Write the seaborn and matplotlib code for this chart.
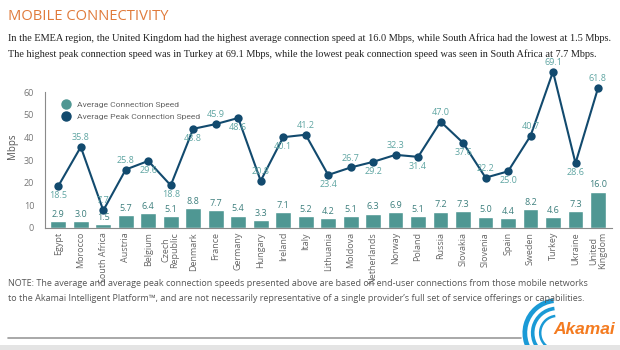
import numpy as np
import pandas as pd
import seaborn as sns
import matplotlib.pyplot as plt
from matplotlib.patches import Arc
from matplotlib.lines import Line2D

countries = ["Egypt", "Morocco", "South Africa", "Austria", "Belgium", "Czech\nRepublic",
             "Denmark", "France", "Germany", "Hungary", "Ireland", "Italy", "Lithuania",
             "Moldova", "Netherlands", "Norway", "Poland", "Russia", "Slovakia", "Slovenia",
             "Spain", "Sweden", "Turkey", "Ukraine", "United\nKingdom"]
avg_speed = [2.9, 3.0, 1.5, 5.7, 6.4, 5.1, 8.8, 7.7, 5.4, 3.3, 7.1, 5.2, 4.2,
             5.1, 6.3, 6.9, 5.1, 7.2, 7.3, 5.0, 4.4, 8.2, 4.6, 7.3, 16.0]
peak_speed = [18.5, 35.8, 7.7, 25.8, 29.6, 18.8, 43.8, 45.9, 48.6, 20.8, 40.1, 41.2, 23.4,
              26.7, 29.2, 32.3, 31.4, 47.0, 37.6, 22.2, 25.0, 40.7, 69.1, 28.6, 61.8]
# which peak labels sit above the point
peak_above = [False, True, True, True, False, False, False, True, False, True, False, True, False,
              True, False, True, False, True, False, True, False, True, True, False, True]

teal = "#4f9793"
navy = "#124a6e"
label_teal = "#5fa5a2"
gray = "#8a8a8a"

sns.set_style("white")
plt.rcParams['font.family'] = ['Open Sans', 'DejaVu Sans']

df = pd.DataFrame({"country": countries, "avg": avg_speed, "peak": peak_speed})
n = len(df)

fig = plt.figure(figsize=(6.2, 3.5), dpi=100)
ax = fig.add_axes([0.073, 0.349, 0.914, 0.465])

sns.barplot(data=df, x="country", y="avg", color=teal, saturation=1, width=0.7, ax=ax)
sns.lineplot(x=np.arange(n), y=df["peak"], color=navy, lw=1.5, marker="o",
             markersize=6, markeredgewidth=0, ax=ax)

for i, v in enumerate(avg_speed):
    ax.text(i, v + 1.0, f"{v:.1f}", ha="center", va="bottom", fontsize=6.5, color="#3d7f7d")
for i, v in enumerate(peak_speed):
    if peak_above[i]:
        ax.text(i, v + 2.2, f"{v:.1f}", ha="center", va="bottom", fontsize=6.5, color=label_teal)
    else:
        ax.text(i, v - 2.2, f"{v:.1f}", ha="center", va="top", fontsize=6.5, color=label_teal)

ax.set_xlim(-0.58, n - 0.38)
ax.set_ylim(0, 72)
ax.set_yticks([0, 10, 20, 30, 40, 50, 60])
ax.spines["top"].set_visible(False)
ax.spines["right"].set_visible(False)
ax.spines["left"].set_bounds(0, 60)
for s in ["left", "bottom"]:
    ax.spines[s].set_color(gray)
    ax.spines[s].set_linewidth(0.8)
ax.tick_params(axis="y", length=10, direction="inout", color=gray, labelsize=6.5,
               labelcolor="#777777", pad=3)
ax.tick_params(axis="x", length=0, labelsize=6.5, labelcolor="#666666", pad=3)
ax.set_xticks(range(n))
ax.set_xticklabels(countries, rotation=90, linespacing=0.95)
ax.set_xlabel("")
ax.set_ylabel("Mbps", fontsize=7, color="#555555", labelpad=4)

handles = [Line2D([], [], ls="", marker="o", color=teal, markersize=6.5),
           Line2D([], [], ls="", marker="o", color=navy, markersize=6.5)]
ax.legend(handles, ["Average Connection Speed", "Average Peak Connection Speed"],
          loc="upper left", bbox_to_anchor=(0.015, 0.805), frameon=False,
          prop={"family": ["Roboto", "DejaVu Sans"], "size": 6.1},
          labelcolor="#666666", handletextpad=0.3, labelspacing=0.6, borderpad=0)

fig.text(0.013, 0.953, "MOBILE CONNECTIVITY", fontsize=10.6, color="#e07a3a",
         va="center", ha="left")
serif = ["Liberation Serif", "DejaVu Serif"]
fig.text(0.013, 0.891, "In the EMEA region, the United Kingdom had the highest average connection "
         "speed at 16.0 Mbps, while South Africa had the lowest at 1.5 Mbps.",
         fontsize=7.4, family=serif, color="#222222", va="center")
fig.text(0.013, 0.845, "The highest peak connection speed was in Turkey at 69.1 Mbps, while the "
         "lowest peak connection speed was seen in South Africa at 7.7 Mbps.",
         fontsize=7.4, family=serif, color="#222222", va="center")

fig.text(0.013, 0.19, "NOTE: The average and average peak connection speeds presented above are "
         "based on end-user connections from those mobile networks", fontsize=6.5,
         color="#555555", va="center")
fig.text(0.013, 0.148, "to the Akamai Intelligent Platform\u2122, and are not necessarily "
         "representative of a single provider\u2019s full set of service offerings or capabilities.",
         fontsize=6.5, color="#555555", va="center")

fig.add_artist(Line2D([0.013, 0.84], [0.035, 0.035], color="#999999", lw=1.2))
fig.add_artist(plt.Rectangle((0, 0), 1, 0.015, color="#e4e4e4", lw=0))

# logo
lax = fig.add_axes([0.83, 0.0, 0.11, 0.15])
lax.set_xlim(-1, 1)
lax.set_ylim(-1, 1)
lax.axis("off")
for r, w in [(0.95, 3.4), (0.72, 2.6), (0.5, 1.8)]:
    lax.add_patch(Arc((0.25, -0.35), 2 * r, 2 * r * 1.3, theta1=95, theta2=240,
                      color="#1a9ad6", lw=w))
fig.text(0.992, 0.06, "Akamai", fontsize=12.5, color="#f47b20", fontweight="bold",
         style="italic", ha="right", va="center", family=["Liberation Sans", "DejaVu Sans"])

fig.savefig("out.png", dpi=100)
